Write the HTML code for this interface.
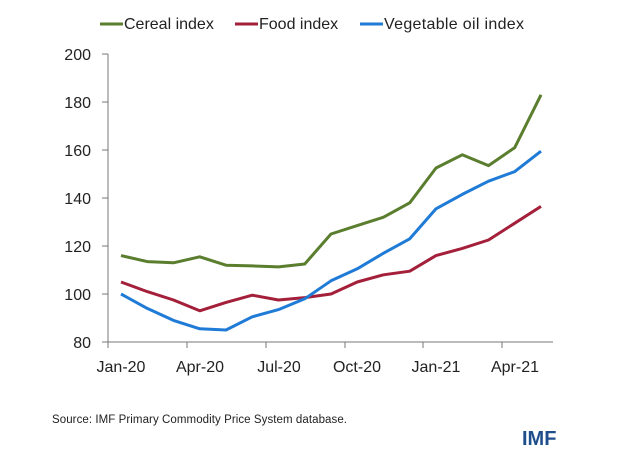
<!DOCTYPE html>
<html><head><meta charset="utf-8"><style>
html,body{margin:0;padding:0;background:#fff;}
svg{display:block;font-family:"Liberation Sans",sans-serif;}
</style></head><body>
<svg width="624" height="461" viewBox="0 0 624 461">
<g font-size="16" fill="#222">
<line x1="100" y1="24" x2="123" y2="24" stroke="#5a7d2e" stroke-width="3"/>
<text x="124" y="29">Cereal  index</text>
<line x1="235" y1="24" x2="258" y2="24" stroke="#a31f3a" stroke-width="3"/>
<text x="259" y="29">Food index</text>
<line x1="360" y1="24" x2="383" y2="24" stroke="#1f7bd6" stroke-width="3"/>
<text x="384" y="29" textLength="140">Vegetable oil index</text>
</g>
<g stroke="#777" stroke-width="1">
<line x1="108" y1="54" x2="108" y2="342"/>
<line x1="108" y1="342" x2="553" y2="342"/>
<line x1="102" y1="54" x2="108" y2="54"/>
<line x1="102" y1="102" x2="108" y2="102"/>
<line x1="102" y1="150" x2="108" y2="150"/>
<line x1="102" y1="198" x2="108" y2="198"/>
<line x1="102" y1="246" x2="108" y2="246"/>
<line x1="102" y1="294" x2="108" y2="294"/>
<line x1="102" y1="342" x2="108" y2="342"/>
<line x1="108" y1="342" x2="108" y2="348"/>
<line x1="187" y1="342" x2="187" y2="348"/>
<line x1="266" y1="342" x2="266" y2="348"/>
<line x1="345" y1="342" x2="345" y2="348"/>
<line x1="423" y1="342" x2="423" y2="348"/>
<line x1="502" y1="342" x2="502" y2="348"/>
</g>
<g font-size="16" fill="#222" text-anchor="end">
<text x="91" y="60">200</text><text x="91" y="108">180</text><text x="91" y="156">160</text>
<text x="91" y="204">140</text><text x="91" y="252">120</text><text x="91" y="300">100</text><text x="91" y="348">80</text>
</g>
<g font-size="16" fill="#222" text-anchor="middle">
<text x="121" y="372">Jan-20</text><text x="200" y="372">Apr-20</text><text x="279" y="372">Jul-20</text>
<text x="357" y="372">Oct-20</text><text x="436" y="372">Jan-21</text><text x="515" y="372">Apr-21</text>
</g>
<g fill="none" stroke-width="3" stroke-linejoin="round">
<polyline id="c" stroke="#5a7d2e" points=""/>
<polyline id="f" stroke="#a31f3a" points=""/>
<polyline id="v" stroke="#1f7bd6" points=""/>
</g>
<text x="52" y="423" font-size="11.5" fill="#222" textLength="295">Source: IMF Primary Commodity Price System database.</text>
<text x="522" y="445" font-size="20" font-weight="bold" fill="#1f4e8c">IMF</text>
<script>
var d={c:[116,113.5,113,115.5,112,111.7,111.3,112.5,125,128.5,132,138,152.5,158,153.5,161,183],
f:[105,101,97.5,93,96.5,99.5,97.5,98.5,100,105,108,109.5,116,119,122.5,129.5,136.5],
v:[100,94,89,85.5,85,90.5,93.5,98,105.5,110.5,117,123,135.5,141.5,147,151,159.5]};
for(var k in d){document.getElementById(k).setAttribute('points',d[k].map(function(y,i){return (121+i*26.25)+','+(342-(y-80)*2.4);}).join(' '));}
</script>
</svg>
</body></html>
